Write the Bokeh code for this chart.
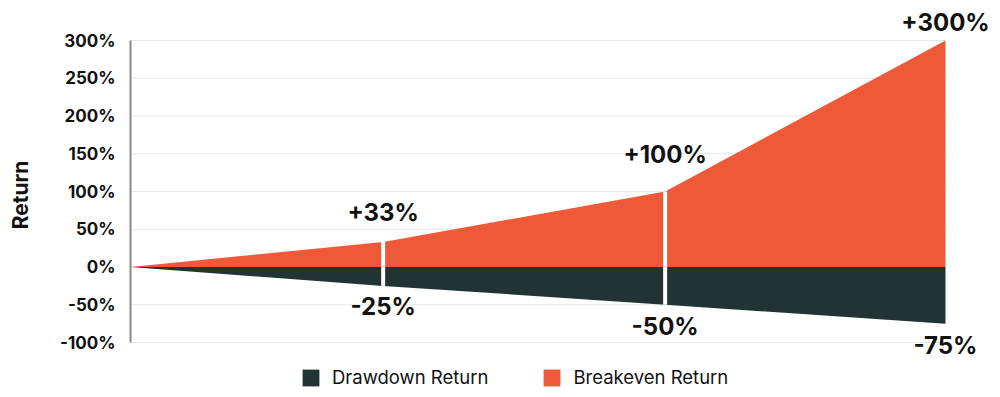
from bokeh.plotting import figure
from bokeh.models import (ColumnDataSource, Range1d, FixedTicker, PrintfTickFormatter,
                          Legend, LegendItem)
from bokeh.core.properties import value
from bokeh.embed import file_html
from bokeh.resources import INLINE

# ---- data ----
position = [0, 31, 65.6, 100]            # horizontal position along the chart
drawdown = [0, -25, -50, -75]            # Drawdown Return (%)
breakeven = [0, 33, 100, 300]            # Breakeven Return (%)
y_ticks = [-100, -50, 0, 50, 100, 150, 200, 250, 300]

FONT = "Inter"
ORANGE = "#EE5A37"
DARK = "#213433"

# frame covers the whole figure right of the axis so that labels and legend are not clipped;
# the visible chart area (0..100, -100..300) maps to x 130..945, y 40..342 px
W, H = 992, 389
PX_X = 815 / 100.0
PX_Y = 302 / 400.0
x_end = 100 + (W - 945) / PX_X
y_top = 300 + 40 / PX_Y
y_bot = -100 - (H - 342) / PX_Y

src = ColumnDataSource(dict(x=position, dd=drawdown, be=breakeven, zero=[0] * len(position)))

p = figure(width=W, height=H, x_range=Range1d(0, x_end), y_range=Range1d(y_bot, y_top),
           output_backend="svg", toolbar_location=None, x_axis_location=None,
           min_border_left=130, min_border_right=0, min_border_top=0, min_border_bottom=0)
p.outline_line_color = None
p.background_fill_color = "white"
p.border_fill_color = "white"
p.xgrid.visible = False
p.ygrid.visible = False

# horizontal gridlines spanning the data extent
grid = ColumnDataSource(dict(y=y_ticks, x0=[position[0]] * len(y_ticks),
                             x1=[position[-1]] * len(y_ticks)))
p.segment(x0="x0", y0="y", x1="x1", y1="y", source=grid, line_color="#e6e6e6", line_width=1)

r_be = p.varea(x="x", y1="zero", y2="be", source=src, fill_color=ORANGE)
r_dd = p.varea(x="x", y1="dd", y2="zero", source=src, fill_color=DARK)

# white separators at the intermediate points
mid = ColumnDataSource(dict(x=position[1:-1], dd=drawdown[1:-1], be=breakeven[1:-1]))
p.segment(x0="x", y0="dd", x1="x", y1="be", source=mid, line_color="white", line_width=4)

# value labels
be_lbl = ColumnDataSource(dict(x=position[1:], y=breakeven[1:],
                               t=["+%d%%" % v for v in breakeven[1:]],
                               off=[-30, -37, -18]))
dd_lbl = ColumnDataSource(dict(x=position[1:], y=drawdown[1:],
                               t=["%d%%" % v for v in drawdown[1:]],
                               off=[21, 22, 22]))
for s in (be_lbl, dd_lbl):
    p.text(x="x", y="y", text="t", y_offset="off", source=s, text_align="center",
           text_baseline="middle", text_font=value(FONT), text_font_style="bold",
           text_font_size="24px", text_color="#111111")

# y axis
ax = p.yaxis[0]
ax.bounds = (y_ticks[0], y_ticks[-1])
ax.ticker = FixedTicker(ticks=y_ticks)
ax.formatter = PrintfTickFormatter(format="%d%%")
ax.major_tick_line_color = None
ax.minor_tick_line_color = None
ax.major_tick_out = 0
ax.minor_tick_out = 0
ax.axis_line_color = "#8a8a8a"
ax.axis_line_width = 2
ax.major_label_standoff = 15
ax.major_label_text_font = FONT
ax.major_label_text_font_style = "bold"
ax.major_label_text_font_size = "17px"
ax.major_label_text_color = "#111111"
ax.axis_label = "Return"
ax.axis_label_text_font = FONT
ax.axis_label_text_font_style = "bold"
ax.axis_label_text_font_size = "21px"
ax.axis_label_text_color = "#111111"
ax.axis_label_standoff = 24

legend = Legend(items=[LegendItem(label="Drawdown Return", renderers=[r_dd]),
                       LegendItem(label="Breakeven Return", renderers=[r_be])],
                orientation="horizontal", location=(170, 1),
                glyph_width=21, glyph_height=21, label_height=21, label_standoff=11,
                spacing=53, padding=0, margin=0, border_line_color=None,
                background_fill_alpha=0,
                label_text_font=FONT, label_text_font_size="18.5px",
                label_text_font_style="normal", label_text_color="#111111")
p.add_layout(legend, "center")

open("out.html", "w").write(file_html(p, INLINE))
